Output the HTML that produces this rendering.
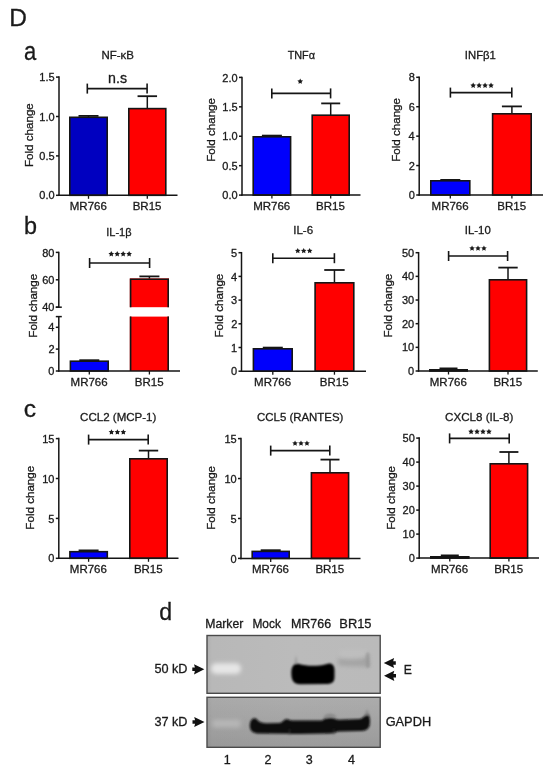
<!DOCTYPE html>
<html><head><meta charset="utf-8"><style>
html,body{margin:0;padding:0;background:#fff;}
svg{display:block;will-change:transform;font-family:"Liberation Sans", sans-serif;fill:#1a1a1a;}
text{stroke:#1a1a1a;stroke-width:0.3px;}
</style></head><body>
<svg width="550" height="771" viewBox="0 0 550 771">
<rect width="550" height="771" fill="#fff"/>
<line x1="88.50" y1="117.50" x2="88.50" y2="115.90" stroke="#151515" stroke-width="1.5"/>
<line x1="78.50" y1="115.90" x2="98.50" y2="115.90" stroke="#151515" stroke-width="1.8"/>
<rect x="69.80" y="117.30" width="37.40" height="78.00" fill="#0000c0" stroke="#151515" stroke-width="1.6"/>
<line x1="147.30" y1="108.80" x2="147.30" y2="96.20" stroke="#151515" stroke-width="1.5"/>
<line x1="137.55" y1="96.20" x2="157.05" y2="96.20" stroke="#151515" stroke-width="1.8"/>
<rect x="128.80" y="108.60" width="37.00" height="86.70" fill="#ff0000" stroke="#151515" stroke-width="1.6"/>
<line x1="59.00" y1="76.35" x2="59.00" y2="196.05" stroke="#151515" stroke-width="1.5"/>
<line x1="58.25" y1="195.30" x2="177.50" y2="195.30" stroke="#151515" stroke-width="1.5"/>
<line x1="56.00" y1="195.30" x2="59.00" y2="195.30" stroke="#151515" stroke-width="1.5"/>
<text x="39.34" y="199.40" font-size="11" text-anchor="start" >0.0</text>
<line x1="56.00" y1="155.90" x2="59.00" y2="155.90" stroke="#151515" stroke-width="1.5"/>
<text x="39.37" y="160.00" font-size="11" text-anchor="start" >0.5</text>
<line x1="56.00" y1="116.50" x2="59.00" y2="116.50" stroke="#151515" stroke-width="1.5"/>
<text x="39.34" y="120.60" font-size="11" text-anchor="start" >1.0</text>
<line x1="56.00" y1="77.10" x2="59.00" y2="77.10" stroke="#151515" stroke-width="1.5"/>
<text x="39.37" y="81.20" font-size="11" text-anchor="start" >1.5</text>
<line x1="88.50" y1="195.30" x2="88.50" y2="198.80" stroke="#151515" stroke-width="1.3"/>
<line x1="147.30" y1="195.30" x2="147.30" y2="198.80" stroke="#151515" stroke-width="1.3"/>
<text x="69.75" y="210.00" font-size="11.5" text-anchor="start" >MR766</text>
<text x="132.69" y="210.00" font-size="11.5" text-anchor="start" >BR15</text>
<line x1="87.30" y1="88.60" x2="147.10" y2="88.60" stroke="#151515" stroke-width="1.6"/>
<line x1="87.30" y1="83.60" x2="87.30" y2="93.60" stroke="#151515" stroke-width="1.6"/>
<line x1="147.10" y1="83.60" x2="147.10" y2="93.60" stroke="#151515" stroke-width="1.6"/>
<text x="108.11" y="83.10" font-size="14.2" text-anchor="start" >n.s</text>
<text x="101.46" y="59.40" font-size="11.45" text-anchor="start" >NF-κB</text>
<text x="0" y="0" font-size="11.6" transform="translate(32.68 167.04) scale(1.0 1) rotate(-90)">Fold change</text>
<line x1="271.90" y1="137.00" x2="271.90" y2="135.60" stroke="#151515" stroke-width="1.5"/>
<line x1="261.90" y1="135.60" x2="281.90" y2="135.60" stroke="#151515" stroke-width="1.8"/>
<rect x="253.20" y="136.80" width="37.40" height="58.30" fill="#0000fc" stroke="#151515" stroke-width="1.6"/>
<line x1="330.70" y1="115.40" x2="330.70" y2="103.40" stroke="#151515" stroke-width="1.5"/>
<line x1="321.20" y1="103.40" x2="340.20" y2="103.40" stroke="#151515" stroke-width="1.8"/>
<rect x="312.20" y="115.20" width="37.00" height="79.90" fill="#ff0000" stroke="#151515" stroke-width="1.6"/>
<line x1="242.00" y1="76.65" x2="242.00" y2="195.85" stroke="#151515" stroke-width="1.5"/>
<line x1="241.25" y1="195.10" x2="360.50" y2="195.10" stroke="#151515" stroke-width="1.5"/>
<line x1="239.00" y1="195.10" x2="242.00" y2="195.10" stroke="#151515" stroke-width="1.5"/>
<text x="222.34" y="199.20" font-size="11" text-anchor="start" >0.0</text>
<line x1="239.00" y1="165.68" x2="242.00" y2="165.68" stroke="#151515" stroke-width="1.5"/>
<text x="222.37" y="169.78" font-size="11" text-anchor="start" >0.5</text>
<line x1="239.00" y1="136.25" x2="242.00" y2="136.25" stroke="#151515" stroke-width="1.5"/>
<text x="222.34" y="140.35" font-size="11" text-anchor="start" >1.0</text>
<line x1="239.00" y1="106.83" x2="242.00" y2="106.83" stroke="#151515" stroke-width="1.5"/>
<text x="222.37" y="110.92" font-size="11" text-anchor="start" >1.5</text>
<line x1="239.00" y1="77.40" x2="242.00" y2="77.40" stroke="#151515" stroke-width="1.5"/>
<text x="222.34" y="81.50" font-size="11" text-anchor="start" >2.0</text>
<line x1="271.90" y1="195.10" x2="271.90" y2="198.60" stroke="#151515" stroke-width="1.3"/>
<line x1="330.70" y1="195.10" x2="330.70" y2="198.60" stroke="#151515" stroke-width="1.3"/>
<text x="253.15" y="210.00" font-size="11.5" text-anchor="start" >MR766</text>
<text x="316.09" y="210.00" font-size="11.5" text-anchor="start" >BR15</text>
<line x1="271.80" y1="93.40" x2="330.60" y2="93.40" stroke="#151515" stroke-width="1.6"/>
<line x1="271.80" y1="88.40" x2="271.80" y2="98.40" stroke="#151515" stroke-width="1.6"/>
<line x1="330.60" y1="88.40" x2="330.60" y2="98.40" stroke="#151515" stroke-width="1.6"/>
<polygon points="300.20,78.50 301.07,80.26 303.01,80.54 301.60,81.91 301.93,83.84 300.20,82.92 298.47,83.84 298.80,81.91 297.39,80.54 299.33,80.26" fill="#1a1a1a"/>
<text x="287.66" y="59.40" font-size="10.85" text-anchor="start" >TNFα</text>
<text x="0" y="0" font-size="11.6" transform="translate(214.98 161.84) scale(1.0 1) rotate(-90)">Fold change</text>
<line x1="450.30" y1="181.00" x2="450.30" y2="179.90" stroke="#151515" stroke-width="1.5"/>
<line x1="440.30" y1="179.90" x2="460.30" y2="179.90" stroke="#151515" stroke-width="1.8"/>
<rect x="430.80" y="180.80" width="39.00" height="14.20" fill="#0000fc" stroke="#151515" stroke-width="1.6"/>
<line x1="511.90" y1="114.00" x2="511.90" y2="106.40" stroke="#151515" stroke-width="1.5"/>
<line x1="501.90" y1="106.40" x2="521.90" y2="106.40" stroke="#151515" stroke-width="1.8"/>
<rect x="492.60" y="113.80" width="38.60" height="81.20" fill="#ff0000" stroke="#151515" stroke-width="1.6"/>
<line x1="419.20" y1="76.55" x2="419.20" y2="195.75" stroke="#151515" stroke-width="1.5"/>
<line x1="418.45" y1="195.00" x2="543.00" y2="195.00" stroke="#151515" stroke-width="1.5"/>
<line x1="416.20" y1="195.00" x2="419.20" y2="195.00" stroke="#151515" stroke-width="1.5"/>
<text x="408.71" y="199.10" font-size="11" text-anchor="start" >0</text>
<line x1="416.20" y1="165.57" x2="419.20" y2="165.57" stroke="#151515" stroke-width="1.5"/>
<text x="408.84" y="169.67" font-size="11" text-anchor="start" >2</text>
<line x1="416.20" y1="136.15" x2="419.20" y2="136.15" stroke="#151515" stroke-width="1.5"/>
<text x="408.60" y="140.25" font-size="11" text-anchor="start" >4</text>
<line x1="416.20" y1="106.72" x2="419.20" y2="106.72" stroke="#151515" stroke-width="1.5"/>
<text x="408.77" y="110.82" font-size="11" text-anchor="start" >6</text>
<line x1="416.20" y1="77.30" x2="419.20" y2="77.30" stroke="#151515" stroke-width="1.5"/>
<text x="408.76" y="81.40" font-size="11" text-anchor="start" >8</text>
<line x1="450.30" y1="195.00" x2="450.30" y2="198.50" stroke="#151515" stroke-width="1.3"/>
<line x1="511.90" y1="195.00" x2="511.90" y2="198.50" stroke="#151515" stroke-width="1.3"/>
<text x="431.55" y="209.80" font-size="11.5" text-anchor="start" >MR766</text>
<text x="497.29" y="209.80" font-size="11.5" text-anchor="start" >BR15</text>
<line x1="450.40" y1="92.60" x2="511.80" y2="92.60" stroke="#151515" stroke-width="1.6"/>
<line x1="450.40" y1="87.60" x2="450.40" y2="97.60" stroke="#151515" stroke-width="1.6"/>
<line x1="511.80" y1="87.60" x2="511.80" y2="97.60" stroke="#151515" stroke-width="1.6"/>
<polygon points="473.18,82.60 474.04,84.36 475.98,84.64 474.58,86.01 474.91,87.94 473.18,87.02 471.44,87.94 471.77,86.01 470.37,84.64 472.31,84.36" fill="#1a1a1a"/>
<polygon points="479.12,82.60 479.99,84.36 481.93,84.64 480.53,86.01 480.86,87.94 479.12,87.02 477.39,87.94 477.72,86.01 476.32,84.64 478.26,84.36" fill="#1a1a1a"/>
<polygon points="485.07,82.60 485.94,84.36 487.88,84.64 486.48,86.01 486.81,87.94 485.07,87.02 483.34,87.94 483.67,86.01 482.27,84.64 484.21,84.36" fill="#1a1a1a"/>
<polygon points="491.03,82.60 491.89,84.36 493.83,84.64 492.43,86.01 492.76,87.94 491.03,87.02 489.29,87.94 489.62,86.01 488.22,84.64 490.16,84.36" fill="#1a1a1a"/>
<text x="464.86" y="59.40" font-size="11.3" text-anchor="start" >INFβ1</text>
<text x="0" y="0" font-size="11.6" transform="translate(399.98 161.84) scale(1.0 1) rotate(-90)">Fold change</text>
<line x1="272.80" y1="349.00" x2="272.80" y2="347.60" stroke="#151515" stroke-width="1.5"/>
<line x1="262.80" y1="347.60" x2="282.80" y2="347.60" stroke="#151515" stroke-width="1.8"/>
<rect x="253.40" y="348.80" width="38.80" height="22.40" fill="#0000fc" stroke="#151515" stroke-width="1.6"/>
<line x1="334.45" y1="283.00" x2="334.45" y2="270.00" stroke="#151515" stroke-width="1.5"/>
<line x1="324.25" y1="270.00" x2="344.65" y2="270.00" stroke="#151515" stroke-width="1.8"/>
<rect x="315.10" y="282.80" width="38.70" height="88.40" fill="#ff0000" stroke="#151515" stroke-width="1.6"/>
<line x1="241.50" y1="251.95" x2="241.50" y2="371.95" stroke="#151515" stroke-width="1.5"/>
<line x1="240.75" y1="371.20" x2="366.00" y2="371.20" stroke="#151515" stroke-width="1.5"/>
<line x1="238.50" y1="371.20" x2="241.50" y2="371.20" stroke="#151515" stroke-width="1.5"/>
<text x="231.01" y="375.30" font-size="11" text-anchor="start" >0</text>
<line x1="238.50" y1="347.50" x2="241.50" y2="347.50" stroke="#151515" stroke-width="1.5"/>
<text x="231.12" y="351.60" font-size="11" text-anchor="start" >1</text>
<line x1="238.50" y1="323.80" x2="241.50" y2="323.80" stroke="#151515" stroke-width="1.5"/>
<text x="231.14" y="327.90" font-size="11" text-anchor="start" >2</text>
<line x1="238.50" y1="300.10" x2="241.50" y2="300.10" stroke="#151515" stroke-width="1.5"/>
<text x="231.07" y="304.20" font-size="11" text-anchor="start" >3</text>
<line x1="238.50" y1="276.40" x2="241.50" y2="276.40" stroke="#151515" stroke-width="1.5"/>
<text x="230.90" y="280.50" font-size="11" text-anchor="start" >4</text>
<line x1="238.50" y1="252.70" x2="241.50" y2="252.70" stroke="#151515" stroke-width="1.5"/>
<text x="231.04" y="256.80" font-size="11" text-anchor="start" >5</text>
<line x1="272.80" y1="371.20" x2="272.80" y2="374.70" stroke="#151515" stroke-width="1.3"/>
<line x1="334.45" y1="371.20" x2="334.45" y2="374.70" stroke="#151515" stroke-width="1.3"/>
<text x="254.05" y="386.00" font-size="11.5" text-anchor="start" >MR766</text>
<text x="319.84" y="386.00" font-size="11.5" text-anchor="start" >BR15</text>
<line x1="272.80" y1="258.20" x2="334.40" y2="258.20" stroke="#151515" stroke-width="1.6"/>
<line x1="272.80" y1="253.20" x2="272.80" y2="263.20" stroke="#151515" stroke-width="1.6"/>
<line x1="334.40" y1="253.20" x2="334.40" y2="263.20" stroke="#151515" stroke-width="1.6"/>
<polygon points="297.75,247.90 298.62,249.66 300.56,249.94 299.15,251.31 299.48,253.24 297.75,252.33 296.02,253.24 296.35,251.31 294.94,249.94 296.88,249.66" fill="#1a1a1a"/>
<polygon points="303.70,247.90 304.57,249.66 306.51,249.94 305.10,251.31 305.43,253.24 303.70,252.33 301.97,253.24 302.30,251.31 300.89,249.94 302.83,249.66" fill="#1a1a1a"/>
<polygon points="309.65,247.90 310.52,249.66 312.46,249.94 311.05,251.31 311.38,253.24 309.65,252.33 307.92,253.24 308.25,251.31 306.84,249.94 308.78,249.66" fill="#1a1a1a"/>
<text x="293.23" y="234.40" font-size="11.59" text-anchor="start" >IL-6</text>
<text x="0" y="0" font-size="11.6" transform="translate(222.68 337.54) scale(1.0 1) rotate(-90)">Fold change</text>
<line x1="448.50" y1="370.00" x2="448.50" y2="368.40" stroke="#151515" stroke-width="1.5"/>
<line x1="439.50" y1="368.40" x2="457.50" y2="368.40" stroke="#151515" stroke-width="1.8"/>
<rect x="429.80" y="369.80" width="37.40" height="1.20" fill="#0000fc" stroke="#151515" stroke-width="1.6"/>
<line x1="508.00" y1="280.00" x2="508.00" y2="267.60" stroke="#151515" stroke-width="1.5"/>
<line x1="498.30" y1="267.60" x2="517.70" y2="267.60" stroke="#151515" stroke-width="1.8"/>
<rect x="489.40" y="279.80" width="37.20" height="91.20" fill="#ff0000" stroke="#151515" stroke-width="1.6"/>
<line x1="418.60" y1="251.95" x2="418.60" y2="371.75" stroke="#151515" stroke-width="1.5"/>
<line x1="417.85" y1="371.00" x2="537.80" y2="371.00" stroke="#151515" stroke-width="1.5"/>
<line x1="415.60" y1="371.00" x2="418.60" y2="371.00" stroke="#151515" stroke-width="1.5"/>
<text x="408.11" y="375.10" font-size="11" text-anchor="start" >0</text>
<line x1="415.60" y1="347.34" x2="418.60" y2="347.34" stroke="#151515" stroke-width="1.5"/>
<text x="401.99" y="351.44" font-size="11" text-anchor="start" >10</text>
<line x1="415.60" y1="323.68" x2="418.60" y2="323.68" stroke="#151515" stroke-width="1.5"/>
<text x="401.99" y="327.78" font-size="11" text-anchor="start" >20</text>
<line x1="415.60" y1="300.02" x2="418.60" y2="300.02" stroke="#151515" stroke-width="1.5"/>
<text x="401.99" y="304.12" font-size="11" text-anchor="start" >30</text>
<line x1="415.60" y1="276.36" x2="418.60" y2="276.36" stroke="#151515" stroke-width="1.5"/>
<text x="401.99" y="280.46" font-size="11" text-anchor="start" >40</text>
<line x1="415.60" y1="252.70" x2="418.60" y2="252.70" stroke="#151515" stroke-width="1.5"/>
<text x="401.99" y="256.80" font-size="11" text-anchor="start" >50</text>
<line x1="448.50" y1="371.00" x2="448.50" y2="374.50" stroke="#151515" stroke-width="1.3"/>
<line x1="508.00" y1="371.00" x2="508.00" y2="374.50" stroke="#151515" stroke-width="1.3"/>
<text x="429.75" y="386.00" font-size="11.5" text-anchor="start" >MR766</text>
<text x="493.39" y="386.00" font-size="11.5" text-anchor="start" >BR15</text>
<line x1="448.60" y1="256.00" x2="507.60" y2="256.00" stroke="#151515" stroke-width="1.6"/>
<line x1="448.60" y1="251.00" x2="448.60" y2="261.00" stroke="#151515" stroke-width="1.6"/>
<line x1="507.60" y1="251.00" x2="507.60" y2="261.00" stroke="#151515" stroke-width="1.6"/>
<polygon points="472.05,245.40 472.92,247.16 474.86,247.44 473.45,248.81 473.78,250.74 472.05,249.83 470.32,250.74 470.65,248.81 469.24,247.44 471.18,247.16" fill="#1a1a1a"/>
<polygon points="478.00,245.40 478.87,247.16 480.81,247.44 479.40,248.81 479.73,250.74 478.00,249.83 476.27,250.74 476.60,248.81 475.19,247.44 477.13,247.16" fill="#1a1a1a"/>
<polygon points="483.95,245.40 484.82,247.16 486.76,247.44 485.35,248.81 485.68,250.74 483.95,249.83 482.22,250.74 482.55,248.81 481.14,247.44 483.08,247.16" fill="#1a1a1a"/>
<text x="464.85" y="234.40" font-size="11.36" text-anchor="start" >IL-10</text>
<text x="0" y="0" font-size="11.6" transform="translate(392.48 337.54) scale(1.0 1) rotate(-90)">Fold change</text>
<line x1="88.60" y1="551.90" x2="88.60" y2="550.40" stroke="#151515" stroke-width="1.5"/>
<line x1="78.60" y1="550.40" x2="98.60" y2="550.40" stroke="#151515" stroke-width="1.8"/>
<rect x="69.90" y="551.70" width="37.40" height="6.60" fill="#0000fc" stroke="#151515" stroke-width="1.6"/>
<line x1="148.50" y1="459.00" x2="148.50" y2="450.60" stroke="#151515" stroke-width="1.5"/>
<line x1="138.80" y1="450.60" x2="158.20" y2="450.60" stroke="#151515" stroke-width="1.8"/>
<rect x="129.80" y="458.80" width="37.40" height="99.50" fill="#ff0000" stroke="#151515" stroke-width="1.6"/>
<line x1="58.80" y1="437.85" x2="58.80" y2="559.05" stroke="#151515" stroke-width="1.5"/>
<line x1="58.05" y1="558.30" x2="178.50" y2="558.30" stroke="#151515" stroke-width="1.5"/>
<line x1="55.80" y1="558.30" x2="58.80" y2="558.30" stroke="#151515" stroke-width="1.5"/>
<text x="48.31" y="562.40" font-size="11" text-anchor="start" >0</text>
<line x1="55.80" y1="518.40" x2="58.80" y2="518.40" stroke="#151515" stroke-width="1.5"/>
<text x="48.34" y="522.50" font-size="11" text-anchor="start" >5</text>
<line x1="55.80" y1="478.50" x2="58.80" y2="478.50" stroke="#151515" stroke-width="1.5"/>
<text x="42.19" y="482.60" font-size="11" text-anchor="start" >10</text>
<line x1="55.80" y1="438.60" x2="58.80" y2="438.60" stroke="#151515" stroke-width="1.5"/>
<text x="42.23" y="442.70" font-size="11" text-anchor="start" >15</text>
<line x1="88.60" y1="558.30" x2="88.60" y2="561.80" stroke="#151515" stroke-width="1.3"/>
<line x1="148.50" y1="558.30" x2="148.50" y2="561.80" stroke="#151515" stroke-width="1.3"/>
<text x="69.85" y="572.80" font-size="11.5" text-anchor="start" >MR766</text>
<text x="133.89" y="572.80" font-size="11.5" text-anchor="start" >BR15</text>
<line x1="88.60" y1="439.60" x2="148.20" y2="439.60" stroke="#151515" stroke-width="1.6"/>
<line x1="88.60" y1="434.60" x2="88.60" y2="444.60" stroke="#151515" stroke-width="1.6"/>
<line x1="148.20" y1="434.60" x2="148.20" y2="444.60" stroke="#151515" stroke-width="1.6"/>
<polygon points="111.45,429.20 112.32,430.96 114.26,431.24 112.85,432.61 113.18,434.54 111.45,433.63 109.72,434.54 110.05,432.61 108.64,431.24 110.58,430.96" fill="#1a1a1a"/>
<polygon points="117.40,429.20 118.27,430.96 120.21,431.24 118.80,432.61 119.13,434.54 117.40,433.63 115.67,434.54 116.00,432.61 114.59,431.24 116.53,430.96" fill="#1a1a1a"/>
<polygon points="123.35,429.20 124.22,430.96 126.16,431.24 124.75,432.61 125.08,434.54 123.35,433.63 121.62,434.54 121.95,432.61 120.54,431.24 122.48,430.96" fill="#1a1a1a"/>
<text x="80.11" y="421.00" font-size="11.54" text-anchor="start" >CCL2 (MCP-1)</text>
<text x="0" y="0" font-size="11.6" transform="translate(34.38 529.64) scale(1.0 1) rotate(-90)">Fold change</text>
<line x1="270.70" y1="551.60" x2="270.70" y2="550.20" stroke="#151515" stroke-width="1.5"/>
<line x1="260.70" y1="550.20" x2="280.70" y2="550.20" stroke="#151515" stroke-width="1.8"/>
<rect x="252.20" y="551.40" width="37.00" height="7.00" fill="#0000fc" stroke="#151515" stroke-width="1.6"/>
<line x1="330.00" y1="473.00" x2="330.00" y2="459.60" stroke="#151515" stroke-width="1.5"/>
<line x1="320.50" y1="459.60" x2="339.50" y2="459.60" stroke="#151515" stroke-width="1.8"/>
<rect x="311.40" y="472.80" width="37.20" height="85.60" fill="#ff0000" stroke="#151515" stroke-width="1.6"/>
<line x1="241.00" y1="437.85" x2="241.00" y2="559.15" stroke="#151515" stroke-width="1.5"/>
<line x1="240.25" y1="558.40" x2="360.50" y2="558.40" stroke="#151515" stroke-width="1.5"/>
<line x1="238.00" y1="558.40" x2="241.00" y2="558.40" stroke="#151515" stroke-width="1.5"/>
<text x="230.51" y="562.50" font-size="11" text-anchor="start" >0</text>
<line x1="238.00" y1="518.47" x2="241.00" y2="518.47" stroke="#151515" stroke-width="1.5"/>
<text x="230.54" y="522.57" font-size="11" text-anchor="start" >5</text>
<line x1="238.00" y1="478.53" x2="241.00" y2="478.53" stroke="#151515" stroke-width="1.5"/>
<text x="224.39" y="482.63" font-size="11" text-anchor="start" >10</text>
<line x1="238.00" y1="438.60" x2="241.00" y2="438.60" stroke="#151515" stroke-width="1.5"/>
<text x="224.43" y="442.70" font-size="11" text-anchor="start" >15</text>
<line x1="270.70" y1="558.40" x2="270.70" y2="561.90" stroke="#151515" stroke-width="1.3"/>
<line x1="330.00" y1="558.40" x2="330.00" y2="561.90" stroke="#151515" stroke-width="1.3"/>
<text x="251.95" y="573.00" font-size="11.5" text-anchor="start" >MR766</text>
<text x="315.39" y="573.00" font-size="11.5" text-anchor="start" >BR15</text>
<line x1="270.70" y1="450.60" x2="329.80" y2="450.60" stroke="#151515" stroke-width="1.6"/>
<line x1="270.70" y1="445.60" x2="270.70" y2="455.60" stroke="#151515" stroke-width="1.6"/>
<line x1="329.80" y1="445.60" x2="329.80" y2="455.60" stroke="#151515" stroke-width="1.6"/>
<polygon points="295.05,440.40 295.92,442.16 297.86,442.44 296.45,443.81 296.78,445.74 295.05,444.83 293.32,445.74 293.65,443.81 292.24,442.44 294.18,442.16" fill="#1a1a1a"/>
<polygon points="301.00,440.40 301.87,442.16 303.81,442.44 302.40,443.81 302.73,445.74 301.00,444.83 299.27,445.74 299.60,443.81 298.19,442.44 300.13,442.16" fill="#1a1a1a"/>
<polygon points="306.95,440.40 307.82,442.16 309.76,442.44 308.35,443.81 308.68,445.74 306.95,444.83 305.22,445.74 305.55,443.81 304.14,442.44 306.08,442.16" fill="#1a1a1a"/>
<text x="257.12" y="421.00" font-size="11.42" text-anchor="start" >CCL5 (RANTES)</text>
<text x="0" y="0" font-size="11.6" transform="translate(214.98 529.74) scale(1.0 1) rotate(-90)">Fold change</text>
<line x1="449.80" y1="557.00" x2="449.80" y2="555.40" stroke="#151515" stroke-width="1.5"/>
<line x1="440.80" y1="555.40" x2="458.80" y2="555.40" stroke="#151515" stroke-width="1.8"/>
<rect x="430.80" y="556.80" width="38.00" height="1.30" fill="#0000fc" stroke="#151515" stroke-width="1.6"/>
<line x1="508.90" y1="464.00" x2="508.90" y2="452.00" stroke="#151515" stroke-width="1.5"/>
<line x1="499.40" y1="452.00" x2="518.40" y2="452.00" stroke="#151515" stroke-width="1.8"/>
<rect x="490.20" y="463.80" width="37.40" height="94.30" fill="#ff0000" stroke="#151515" stroke-width="1.6"/>
<line x1="419.20" y1="437.35" x2="419.20" y2="558.85" stroke="#151515" stroke-width="1.5"/>
<line x1="418.45" y1="558.10" x2="539.00" y2="558.10" stroke="#151515" stroke-width="1.5"/>
<line x1="416.20" y1="558.10" x2="419.20" y2="558.10" stroke="#151515" stroke-width="1.5"/>
<text x="408.71" y="562.20" font-size="11" text-anchor="start" >0</text>
<line x1="416.20" y1="534.10" x2="419.20" y2="534.10" stroke="#151515" stroke-width="1.5"/>
<text x="402.59" y="538.20" font-size="11" text-anchor="start" >10</text>
<line x1="416.20" y1="510.10" x2="419.20" y2="510.10" stroke="#151515" stroke-width="1.5"/>
<text x="402.59" y="514.20" font-size="11" text-anchor="start" >20</text>
<line x1="416.20" y1="486.10" x2="419.20" y2="486.10" stroke="#151515" stroke-width="1.5"/>
<text x="402.59" y="490.20" font-size="11" text-anchor="start" >30</text>
<line x1="416.20" y1="462.10" x2="419.20" y2="462.10" stroke="#151515" stroke-width="1.5"/>
<text x="402.59" y="466.20" font-size="11" text-anchor="start" >40</text>
<line x1="416.20" y1="438.10" x2="419.20" y2="438.10" stroke="#151515" stroke-width="1.5"/>
<text x="402.59" y="442.20" font-size="11" text-anchor="start" >50</text>
<line x1="449.80" y1="558.10" x2="449.80" y2="561.60" stroke="#151515" stroke-width="1.3"/>
<line x1="508.90" y1="558.10" x2="508.90" y2="561.60" stroke="#151515" stroke-width="1.3"/>
<text x="431.05" y="572.80" font-size="11.5" text-anchor="start" >MR766</text>
<text x="494.29" y="572.80" font-size="11.5" text-anchor="start" >BR15</text>
<line x1="449.60" y1="438.40" x2="509.20" y2="438.40" stroke="#151515" stroke-width="1.6"/>
<line x1="449.60" y1="433.40" x2="449.60" y2="443.40" stroke="#151515" stroke-width="1.6"/>
<line x1="509.20" y1="433.40" x2="509.20" y2="443.40" stroke="#151515" stroke-width="1.6"/>
<polygon points="471.07,428.80 471.94,430.56 473.88,430.84 472.48,432.21 472.81,434.14 471.07,433.23 469.34,434.14 469.67,432.21 468.27,430.84 470.21,430.56" fill="#1a1a1a"/>
<polygon points="477.02,428.80 477.89,430.56 479.83,430.84 478.43,432.21 478.76,434.14 477.02,433.23 475.29,434.14 475.62,432.21 474.22,430.84 476.16,430.56" fill="#1a1a1a"/>
<polygon points="482.97,428.80 483.84,430.56 485.78,430.84 484.38,432.21 484.71,434.14 482.97,433.23 481.24,434.14 481.57,432.21 480.17,430.84 482.11,430.56" fill="#1a1a1a"/>
<polygon points="488.93,428.80 489.79,430.56 491.73,430.84 490.33,432.21 490.66,434.14 488.93,433.23 487.19,434.14 487.52,432.21 486.12,430.84 488.06,430.56" fill="#1a1a1a"/>
<text x="445.11" y="421.20" font-size="11.6" text-anchor="start" >CXCL8 (IL-8)</text>
<text x="0" y="0" font-size="11.6" transform="translate(394.98 529.74) scale(1.0 1) rotate(-90)">Fold change</text>
<rect x="70.40" y="361.20" width="37.80" height="9.80" fill="#0000fc" stroke="#151515" stroke-width="1.6"/>
<line x1="89.30" y1="361.00" x2="89.30" y2="360.20" stroke="#151515" stroke-width="1.5"/>
<line x1="79.30" y1="360.20" x2="99.30" y2="360.20" stroke="#151515" stroke-width="1.8"/>
<line x1="149.40" y1="279.00" x2="149.40" y2="276.40" stroke="#151515" stroke-width="1.5"/>
<line x1="139.40" y1="276.40" x2="159.40" y2="276.40" stroke="#151515" stroke-width="1.8"/>
<rect x="129.8" y="278.4" width="39.19999999999999" height="28.80000000000001" fill="#ff0000"/>
<path d="M130.60000000000002 307.2 V279.2 H168.2 V307.2" fill="none" stroke="#151515" stroke-width="1.6"/>
<rect x="129.8" y="316.6" width="39.19999999999999" height="54.39999999999998" fill="#ff0000"/>
<path d="M130.60000000000002 316.6 V371.0 M168.2 316.6 V371.0" fill="none" stroke="#151515" stroke-width="1.6"/>
<line x1="58.80" y1="251.65" x2="58.80" y2="307.20" stroke="#151515" stroke-width="1.5"/>
<line x1="58.80" y1="316.60" x2="58.80" y2="371.75" stroke="#151515" stroke-width="1.5"/>
<line x1="58.05" y1="371.00" x2="180.00" y2="371.00" stroke="#151515" stroke-width="1.5"/>
<line x1="55.80" y1="252.40" x2="58.80" y2="252.40" stroke="#151515" stroke-width="1.5"/>
<text x="42.19" y="256.50" font-size="11" text-anchor="start" >80</text>
<line x1="55.80" y1="279.80" x2="58.80" y2="279.80" stroke="#151515" stroke-width="1.5"/>
<text x="42.19" y="283.90" font-size="11" text-anchor="start" >60</text>
<line x1="55.80" y1="307.20" x2="58.80" y2="307.20" stroke="#151515" stroke-width="1.5"/>
<text x="42.19" y="311.30" font-size="11" text-anchor="start" >40</text>
<line x1="55.80" y1="371.00" x2="58.80" y2="371.00" stroke="#151515" stroke-width="1.5"/>
<text x="48.31" y="375.10" font-size="11" text-anchor="start" >0</text>
<line x1="55.80" y1="349.10" x2="58.80" y2="349.10" stroke="#151515" stroke-width="1.5"/>
<text x="48.44" y="353.20" font-size="11" text-anchor="start" >2</text>
<line x1="55.80" y1="327.30" x2="58.80" y2="327.30" stroke="#151515" stroke-width="1.5"/>
<text x="48.20" y="331.40" font-size="11" text-anchor="start" >4</text>
<line x1="55.80" y1="307.20" x2="61.80" y2="307.20" stroke="#151515" stroke-width="1.5"/>
<line x1="55.80" y1="316.60" x2="61.80" y2="316.60" stroke="#151515" stroke-width="1.5"/>
<line x1="89.30" y1="371.00" x2="89.30" y2="374.50" stroke="#151515" stroke-width="1.3"/>
<line x1="149.40" y1="371.00" x2="149.40" y2="374.50" stroke="#151515" stroke-width="1.3"/>
<text x="70.55" y="386.00" font-size="11.5" text-anchor="start" >MR766</text>
<text x="134.79" y="386.00" font-size="11.5" text-anchor="start" >BR15</text>
<line x1="89.60" y1="263.00" x2="149.60" y2="263.00" stroke="#151515" stroke-width="1.6"/>
<line x1="89.60" y1="258.00" x2="89.60" y2="268.00" stroke="#151515" stroke-width="1.6"/>
<line x1="149.60" y1="258.00" x2="149.60" y2="268.00" stroke="#151515" stroke-width="1.6"/>
<polygon points="111.28,251.10 112.14,252.86 114.08,253.14 112.68,254.51 113.01,256.44 111.28,255.53 109.54,256.44 109.87,254.51 108.47,253.14 110.41,252.86" fill="#1a1a1a"/>
<polygon points="117.23,251.10 118.09,252.86 120.03,253.14 118.63,254.51 118.96,256.44 117.23,255.53 115.49,256.44 115.82,254.51 114.42,253.14 116.36,252.86" fill="#1a1a1a"/>
<polygon points="123.18,251.10 124.04,252.86 125.98,253.14 124.58,254.51 124.91,256.44 123.18,255.53 121.44,256.44 121.77,254.51 120.37,253.14 122.31,252.86" fill="#1a1a1a"/>
<polygon points="129.12,251.10 129.99,252.86 131.93,253.14 130.53,254.51 130.86,256.44 129.12,255.53 127.39,256.44 127.72,254.51 126.32,253.14 128.26,252.86" fill="#1a1a1a"/>
<text x="106.29" y="236.00" font-size="10.99" text-anchor="start" >IL-1β</text>
<text x="0" y="0" font-size="11.6" transform="translate(36.98 337.64) scale(1.0 1) rotate(-90)">Fold change</text>
<text font-size="23.98" transform="translate(9.29 26.10) scale(1.0208 1)">D</text>
<text font-size="25.01" transform="translate(24.07 60.06) scale(0.8797 1)">a</text>
<text font-size="23.29" transform="translate(24.00 234.27) scale(1.0027 1)">b</text>
<text font-size="23.36" transform="translate(23.76 417.37) scale(1.0523 1)">c</text>
<text font-size="23.15" transform="translate(159.23 620.27) scale(0.9990 1)">d</text>
<text x="205.30" y="628.20" font-size="12.21" text-anchor="start" >Marker</text>
<text x="252.42" y="628.20" font-size="11.91" text-anchor="start" >Mock</text>
<text x="290.98" y="628.20" font-size="12.46" text-anchor="start" >MR766</text>
<text x="339.34" y="628.20" font-size="12.87" text-anchor="start" >BR15</text>
<defs>
  <filter id="b1" x="-50%" y="-50%" width="200%" height="200%"><feGaussianBlur stdDeviation="1.2"/></filter>
  <filter id="b2" x="-50%" y="-50%" width="200%" height="200%"><feGaussianBlur stdDeviation="2.2"/></filter>
</defs>
<defs>
<linearGradient id="gu" x1="0" y1="0" x2="1" y2="0">
 <stop offset="0" stop-color="#b0b0b0"/><stop offset="0.03" stop-color="#b8b8b8"/><stop offset="0.5" stop-color="#bbbbbb"/><stop offset="1" stop-color="#bababa"/>
</linearGradient>
<linearGradient id="gl" x1="0" y1="0" x2="1" y2="0">
 <stop offset="0" stop-color="#9c9c9c"/><stop offset="0.03" stop-color="#a4a4a4"/><stop offset="0.5" stop-color="#a7a7a7"/><stop offset="1" stop-color="#a6a6a6"/>
</linearGradient>
</defs>
<linearGradient id="gl2" x1="0" y1="0" x2="0" y2="1">
 <stop offset="0" stop-color="#ffffff" stop-opacity="0.06"/><stop offset="1" stop-color="#000000" stop-opacity="0.07"/>
</linearGradient>
<rect x="207" y="635.5" width="173.2" height="57.8" fill="url(#gu)" stroke="#4a4a4a" stroke-width="1.4"/>
<rect x="207" y="697.3" width="173.2" height="50" fill="url(#gl)" stroke="#4a4a4a" stroke-width="1.4"/>
<rect x="207.7" y="698" width="171.8" height="48.6" fill="url(#gl2)"/>
<rect x="211" y="663.3" width="30" height="10.6" rx="5" fill="#e6e6e6" filter="url(#b2)"/>
<rect x="212" y="719.5" width="29" height="8" rx="4" fill="#b6b6b6" filter="url(#b2)"/>
<path d="M291.3 673 C291.3 665 295 662.8 299 664 C306 666.3 318 666.5 326 664.2 C331 662 334.5 664.5 334.5 670 L334.5 677 C334.5 683 331 684 326 684 L300 684.2 C294 684.2 291.3 681 291.3 673 Z" fill="#050505" filter="url(#b1)"/>
<path d="M294 664 L296 655 L298 664 Z" fill="#888" opacity="0.5" filter="url(#b1)"/>
<path d="M338 658 C345 660 360 660 366 657 L368.5 653 L369.5 667 C360 666.5 345 666.5 338 665 Z" fill="#9d9d9d" opacity="0.75" filter="url(#b2)"/>
<path d="M365.5 655 C366 652 368.5 651.5 369.3 654 L369.8 666 C369 668.5 366.5 668.5 366 666 Z" fill="#969696" opacity="0.8" filter="url(#b1)"/>
<rect x="340" y="650" width="26" height="7" fill="#c4c4c4" opacity="0.45" filter="url(#b2)"/>
<path d="M249.8 726 C249.8 719 254 716.8 257 719.2 C258.5 722 262 723.3 268 723.3 L280 723 C283 722 284 719 287 719 C289 719.5 290 720.5 292 720.5 L322 720.5 C324 718.5 327 717.8 331 718 C335 718.3 336 719.5 339 719.8 L360 719 C364 717.5 366 714 368 714.5 C370 715.5 370.5 722 369.5 726 C368 730 365 731 360 731 L338 731.5 C335 732.5 333 733.5 330 733.5 L300 734 C295 734 292 734 289 733.7 L260 733.5 C253 733.5 249.8 731 249.8 726 Z" fill="#0c0c0c" filter="url(#b1)"/>
<path d="M289.5 729 L289.5 735 M333.8 729 L333.8 735" stroke="#4a4a4a" stroke-width="1" opacity="0.6" filter="url(#b1)"/>
<path d="M323 718 C325 713 333 712 337 717 Z" fill="#777" opacity="0.6" filter="url(#b1)"/>
<path d="M364 716 L367 709 L370 716 Z" fill="#7a7a7a" opacity="0.6" filter="url(#b1)"/>
<path d="M204.3 669.3 L194.0 664.1999999999999 L194.9 667.5999999999999 L192.3 667.5999999999999 L192.3 671.0 L194.9 671.0 L194.0 674.4 Z" fill="#111"/>
<path d="M204.5 722 L194.2 716.9 L195.1 720.3 L192.5 720.3 L192.5 723.7 L195.1 723.7 L194.2 727.1 Z" fill="#111"/>
<path d="M383.8 663 L394.1 657.9 L393.2 661.3 L395.8 661.3 L395.8 664.7 L393.2 664.7 L394.1 668.1 Z" fill="#111"/>
<path d="M384 675.8 L394.3 670.6999999999999 L393.4 674.0999999999999 L396 674.0999999999999 L396 677.5 L393.4 677.5 L394.3 680.9 Z" fill="#111"/>

<text x="154.39" y="673.00" font-size="12.68" text-anchor="start" >50 kD</text>
<text x="154.42" y="725.50" font-size="12.67" text-anchor="start" >37 kD</text>
<text x="403.70" y="673.50" font-size="12.18" text-anchor="start" >E</text>
<text x="385.66" y="726.00" font-size="12.79" text-anchor="start" >GAPDH</text>
<text x="223.85" y="763.70" font-size="12.5" text-anchor="start" >1</text>
<text x="264.42" y="763.70" font-size="12.5" text-anchor="start" >2</text>
<text x="305.76" y="763.70" font-size="12.5" text-anchor="start" >3</text>
<text x="347.96" y="763.70" font-size="12.5" text-anchor="start" >4</text>
</svg>
</body></html>
